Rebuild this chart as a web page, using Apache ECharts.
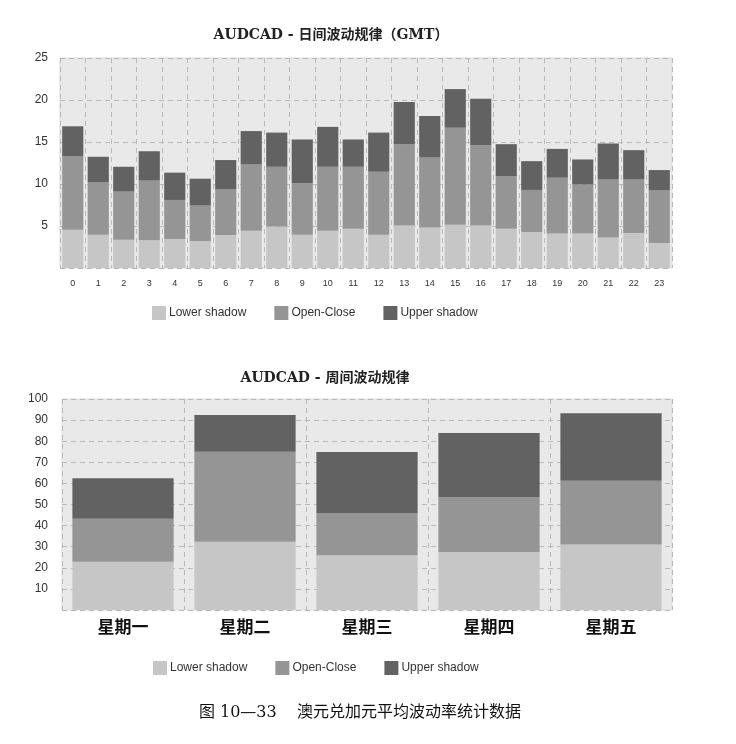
<!DOCTYPE html>
<html><head><meta charset="utf-8">
<script src="https://cdn.jsdelivr.net/npm/echarts@6/dist/echarts.min.js"></script>
<style>html,body{margin:0;padding:0;background:#fff}#c{width:736px;height:744px}</style>
</head><body><div id="c"></div>
<script>
// Hourly chart (GMT)
const hours = ['0','1','2','3','4','5','6','7','8','9','10','11','12','13','14','15','16','17','18','19','20','21','22','23'];
const hourLower = [4.55,3.96,3.37,3.3,3.45,3.2,3.92,4.43,4.94,3.96,4.43,4.67,3.96,5.06,4.83,5.14,5.06,4.67,4.28,4.11,4.11,3.64,4.16,2.97];
const hourOpenClose = [8.75,6.24,5.73,7.1,4.65,4.23,5.45,7.94,7.11,6.12,7.62,7.38,7.5,9.68,8.33,11.56,9.56,6.28,5.01,6.64,5.85,6.95,6.43,6.28];
const hourUpper = [3.57,3.04,2.95,3.5,3.25,3.2,3.48,3.93,4.07,5.22,4.75,3.25,4.66,5.01,4.94,4.6,5.53,3.79,3.43,3.43,2.96,4.23,3.44,2.41];
// Weekly chart
const days = ['星期一','星期二','星期三','星期四','星期五'];
const dayLower = [22.9,32.4,25.9,27.5,31.0];
const dayOpenClose = [20.4,42.6,20.1,25.9,30.3];
const dayUpper = [19.1,17.4,28.9,30.5,31.9];
const hourTicks = [0,5,10,15,20,25];
const dayTicks = [0,10,20,30,40,50,60,70,80,90,100];
const seriesNames = ['Lower shadow','Open-Close','Upper shadow'];
const colors = ['#c6c6c6','#959595','#626262'];

const chart = echarts.init(document.getElementById('c'));
const grid = {show:true, backgroundColor:'#e9e9e9', borderColor:'#dcdcdc', borderWidth:1};
const split = {show:true, lineStyle:{type:[5,4], color:'#b8b8b8', width:1}};
const titleFont = {fontFamily:'DejaVu Serif, Noto Sans CJK SC', fontSize:14, fontWeight:'bold', color:'#222'};
const mk = (name, data, idx, color) => ({
  name, type:'bar', stack:'s'+idx, xAxisIndex:idx, yAxisIndex:idx, data,
  barCategoryGap:'17%', itemStyle:{color}
});
chart.setOption({
  animation:false,
  color: colors,
  title:[
    {text:'AUDCAD - 日间波动规律（GMT）', left:326, top:23, textAlign:'center', textStyle:titleFont},
    {text:'AUDCAD - 周间波动规律', left:320, top:366, textAlign:'center', textStyle:titleFont},
    {text:'图 10—33    澳元兑加元平均波动率统计数据', left:355, top:700, textAlign:'center',
     textStyle:{fontFamily:'DejaVu Serif, Noto Sans CJK SC', fontSize:16, fontWeight:'normal', color:'#111'}}
  ],
  legend:[
    {data:seriesNames, left:147, top:301, icon:'rect', itemWidth:14, itemHeight:14, itemGap:28,
     textStyle:{fontFamily:'Liberation Sans', fontSize:12, color:'#333', padding:[0,0,0,-2]}},
    {data:seriesNames, left:148, top:656, icon:'rect', itemWidth:14, itemHeight:14, itemGap:28,
     textStyle:{fontFamily:'Liberation Sans', fontSize:12, color:'#333', padding:[0,0,0,-2]}}
  ],
  grid:[
    Object.assign({left:60, right:64, top:58, height:210}, grid),
    Object.assign({left:62, right:64, top:399, height:211}, grid)
  ],
  xAxis:[
    {type:'category', gridIndex:0, data:hours, axisLine:{show:false}, axisTick:{show:false},
     splitLine:split, axisLabel:{fontSize:9, color:'#333', margin:11, fontFamily:'Liberation Sans'}},
    {type:'category', gridIndex:1, data:days, axisLine:{show:false}, axisTick:{show:false},
     splitLine:split, axisLabel:{fontSize:17, fontWeight:'bold', color:'#111', margin:8, fontFamily:'Noto Sans CJK SC'}}
  ],
  yAxis:[
    {type:'value', gridIndex:0, min:hourTicks[0], max:hourTicks[hourTicks.length-1], interval:5,
     axisLine:{show:false}, axisTick:{show:false}, splitLine:split,
     axisLabel:{showMinLabel:false, fontSize:12, color:'#333', margin:12, fontFamily:'Liberation Sans'}},
    {type:'value', gridIndex:1, min:dayTicks[0], max:dayTicks[dayTicks.length-1], interval:10,
     axisLine:{show:false}, axisTick:{show:false}, splitLine:split,
     axisLabel:{showMinLabel:false, fontSize:12, color:'#333', margin:14, fontFamily:'Liberation Sans'}}
  ],
  series:[
    mk(seriesNames[0], hourLower, 0, colors[0]),
    mk(seriesNames[1], hourOpenClose, 0, colors[1]),
    mk(seriesNames[2], hourUpper, 0, colors[2]),
    mk(seriesNames[0], dayLower, 1, colors[0]),
    mk(seriesNames[1], dayOpenClose, 1, colors[1]),
    mk(seriesNames[2], dayUpper, 1, colors[2])
  ]
});
</script></body></html>
